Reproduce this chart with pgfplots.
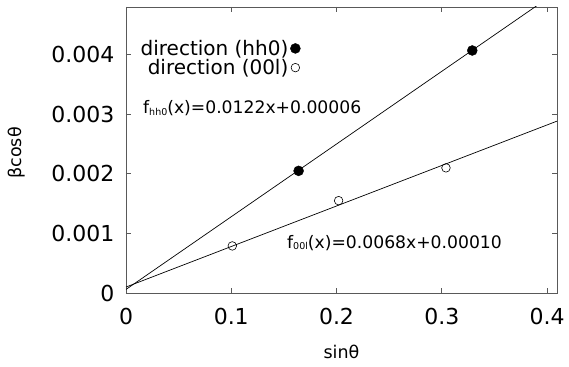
\documentclass[border=0pt]{standalone}
\usepackage{fontspec}
\setmainfont{DejaVu Sans}
\usepackage{pgfplots}
\pgfplotsset{compat=1.18}
\begin{document}
\begin{tikzpicture}
\begin{axis}[
  at={(0,0)}, anchor=south west,
  scale only axis, width=431pt, height=286pt,
  xmin=0, xmax=0.4095, ymin=0, ymax=0.0048,
  xtick={0,0.1,0.2,0.3,0.4}, ytick={0,0.001,0.002,0.003,0.004},
  scaled y ticks=false, scaled x ticks=false,
  yticklabel style={/pgf/number format/fixed, /pgf/number format/precision=3},
  xticklabel style={/pgf/number format/fixed},
  /pgf/number format/assume math mode=true,
  tick label style={font=\fontsize{22}{22}\selectfont},
  yticklabel style={xshift=-8pt},
  xticklabel style={yshift=-12pt},
  tick align=inside, major tick length=5pt,
  axis line style={draw=black!65, line width=0.8pt},
  every tick/.style={draw=black!65, line width=0.8pt},
  xlabel={sinθ}, ylabel={βcosθ},
  label style={font=\fontsize{17.5}{17.5}\selectfont},
  xlabel style={at={(axis description cs:0.5,-0.207)}, anchor=center},
  ylabel style={at={(axis description cs:-0.253,0.49)}, anchor=center},
  legend cell align=right,
  legend plot pos=right,
  legend style={draw=none, fill=none, font=\fontsize{20}{20}\selectfont,
    at={(0.412,0.899)}, anchor=north east, row sep=-1.5pt},
  clip=true,
]
\addplot[only marks, mark=*, mark size=5pt, black] coordinates {
  (0.164,0.00205) (0.329,0.00407)
};
\addlegendentry{direction (hh0)}
\addplot[only marks, mark=o, mark size=4.3pt, black, line width=0.6pt, mark options={fill=white}] coordinates {
  (0.101,0.00079) (0.202,0.00155) (0.304,0.00210)
};
\addlegendentry{direction (00l)}
\addplot[black, line width=0.7pt, forget plot] coordinates {(0,0.00006) (0.41,0.005062)};
\addplot[black, line width=0.7pt, forget plot] coordinates {(0,0.00010) (0.41,0.002888)};
\node[anchor=west, font=\fontsize{17.2}{17.2}\selectfont, inner sep=0pt] at (rel axis cs:0.0394,0.645)
  {f\raisebox{-1.5pt}{\fontsize{9.5}{9.5}\selectfont hh0}(x)=0.0122x+0.00006};
\node[anchor=west, font=\fontsize{17.2}{17.2}\selectfont, inner sep=0pt] at (rel axis cs:0.3735,0.176)
  {f\raisebox{-1.5pt}{\fontsize{9.5}{9.5}\selectfont 00l}(x)=0.0068x+0.00010};
\end{axis}
\pgfresetboundingbox
\path (-126pt,-73pt) rectangle (443pt,293pt);
\end{tikzpicture}
\end{document}
